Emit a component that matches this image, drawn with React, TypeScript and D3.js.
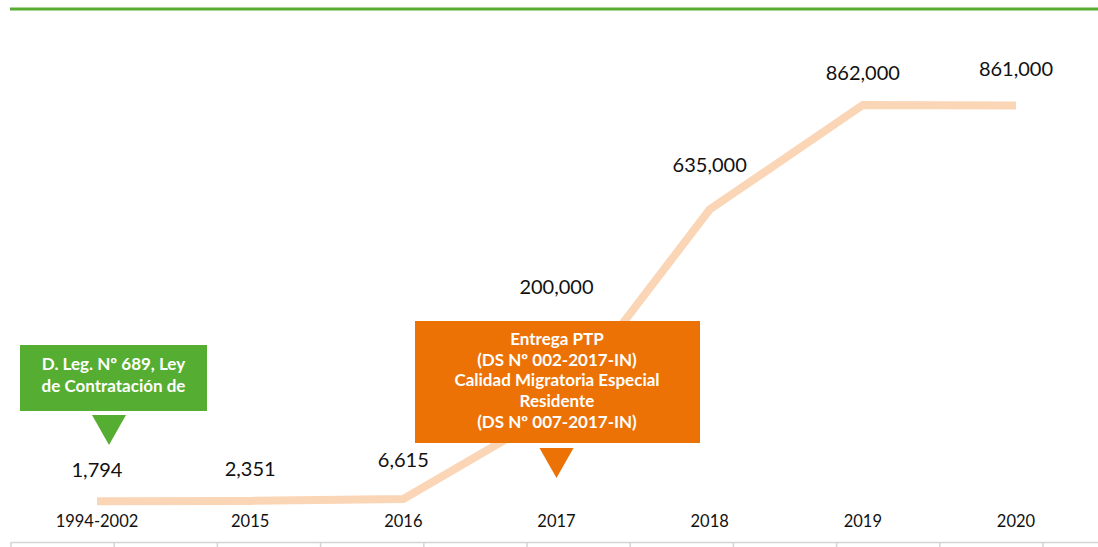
import * as d3 from 'd3';

const W = 1098;
const H = 547;

// chart data
const years = ['1994-2002', '2015', '2016', '2017', '2018', '2019', '2020'];
const values = [1794, 2351, 6615, 200000, 635000, 862000, 861000];
// vertical gap between a point and its value label
const labelGap = [24, 25, 32, 116, 38, 25, 29];

const greenNote = ['D. Leg. Nº 689, Ley', 'de Contratación de'];
const orangeNote = ['Entrega PTP', '(DS Nº 002-2017-IN)', 'Calidad Migratoria Especial', 'Residente', '(DS Nº 007-2017-IN)'];

const GREEN = '#55ae32';
const ORANGE = '#ed7205';
const LINE = '#fbd6b6';
const FONT = 'Lato, "Open Sans", sans-serif';

type Pt = { year: string; value: number };

export default function App() {
    const data: Pt[] = years.map((year, i) => ({ year, value: values[i] }));

    const x = d3.scalePoint<string>().domain(years).range([97, 1016]);
    const y = d3.scaleLinear().domain([0, 862000]).range([502, 105]);

    const line = d3
        .line<Pt>()
        .x((d) => x(d.year)!)
        .y((d) => y(d.value));

    // bottom rule with evenly spaced tick marks
    const tickScale = d3.scaleLinear().domain([0, 10]).range([11, 1043]);
    const tickPos = d3.range(0, 11).map((i) => tickScale(i));

    const xGreen = x('1994-2002')! + 12;
    const xOrange = x('2017')!;

    return (
        <div style={{ position: 'absolute', left: 0, top: 0 }}>
            <svg width={W} height={H} style={{ display: 'block', background: '#fff' }}>
                {/* top green rule */}
                <line x1={10} x2={W} y1={9} y2={9} stroke={GREEN} strokeWidth={3} />

                {/* bottom axis rule */}
                <line x1={11} x2={W} y1={542.5} y2={542.5} stroke="#d4d4d4" strokeWidth={1.5} />
                {tickPos.map((t, i) => (
                    <line key={i} x1={t} x2={t} y1={542} y2={H} stroke="#d4d4d4" strokeWidth={1.5} />
                ))}

                <path d={line(data) ?? ''} fill="none" stroke={LINE} strokeWidth={8} strokeLinejoin="miter" />

                {data.map((d, i) => (
                    <text
                        key={d.year}
                        x={x(d.year)}
                        y={y(d.value) - labelGap[i]}
                        textAnchor="middle"
                        fontFamily={FONT}
                        fontSize={20}
                        fill="#111"
                    >
                        {d3.format(',')(d.value)}
                    </text>
                ))}

                {years.map((yr) => (
                    <text key={yr} x={x(yr)} y={527} textAnchor="middle" fontFamily={FONT} fontSize={16.5} fill="#111">
                        {yr}
                    </text>
                ))}

                {/* green annotation */}
                <rect x={20} y={345} width={187} height={66} fill={GREEN} />
                {greenNote.map((s, i) => (
                    <text
                        key={s}
                        x={113.5}
                        y={370 + i * 22}
                        textAnchor="middle"
                        fontFamily={FONT}
                        fontWeight="bold"
                        fontSize={17}
                        fill="#fff"
                    >
                        {s}
                    </text>
                ))}
                <path d={`M${xGreen - 17},415 L${xGreen + 17},415 L${xGreen},445 Z`} fill={GREEN} />

                {/* orange annotation */}
                <rect x={415} y={321} width={285} height={122} fill={ORANGE} />
                {orangeNote.map((s, i) => (
                    <text
                        key={s}
                        x={557}
                        y={345 + i * 20.7}
                        textAnchor="middle"
                        fontFamily={FONT}
                        fontWeight="bold"
                        fontSize={17}
                        fill="#fff"
                    >
                        {s}
                    </text>
                ))}
                <path d={`M${xOrange - 17},448 L${xOrange + 17},448 L${xOrange},478 Z`} fill={ORANGE} />
            </svg>
        </div>
    );
}
